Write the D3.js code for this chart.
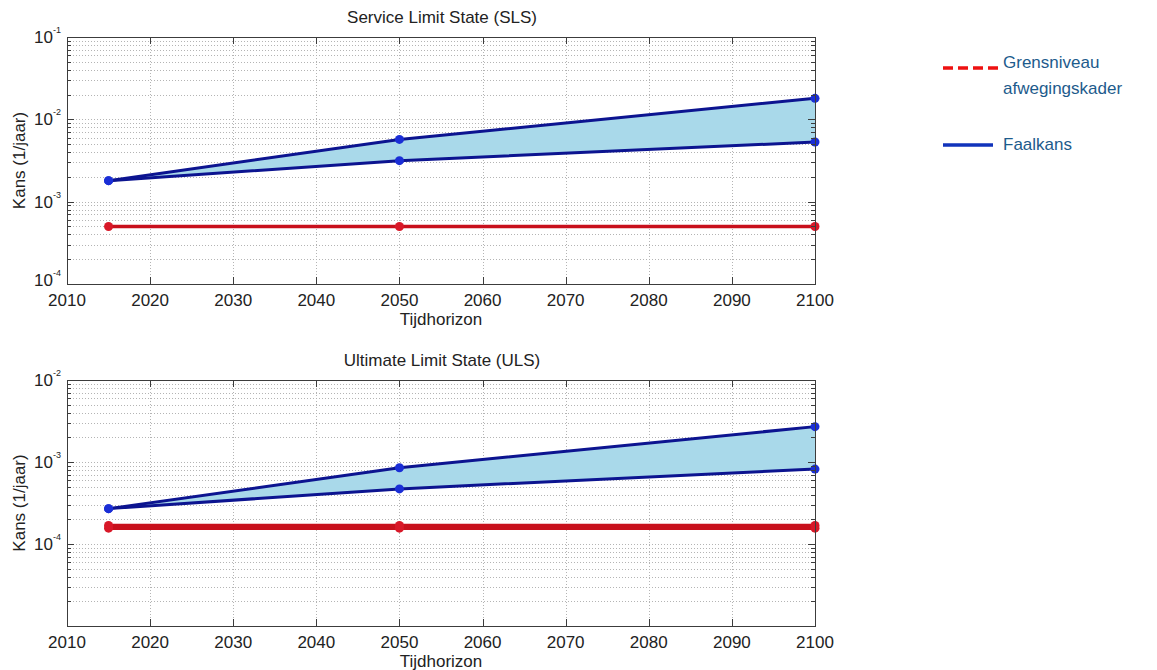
<!DOCTYPE html>
<html>
<head>
<meta charset="utf-8">
<script src="https://cdn.jsdelivr.net/npm/d3@7"></script>
<style>
  html, body { margin: 0; padding: 0; background: #ffffff; }
  svg text { font-family: "Liberation Sans", Arial, Helvetica, sans-serif; }
</style>
</head>
<body>
<svg id="chart" width="1157" height="670"></svg>
<script>
// Jaren waarvoor de faalkans is berekend
const years = [2015, 2050, 2100];

// Service Limit State (SLS)
const slsUpper = [1.8e-3, 5.7e-3, 1.8e-2];
const slsLower = [1.8e-3, 3.15e-3, 5.3e-3];
const slsLimit = [5e-4, 5e-4, 5e-4];

// Ultimate Limit State (ULS)
const ulsUpper = [2.7e-4, 8.5e-4, 2.7e-3];
const ulsLower = [2.7e-4, 4.7e-4, 8.2e-4];
const ulsLimitA = [1.56e-4, 1.56e-4, 1.56e-4];
const ulsLimitB = [1.68e-4, 1.68e-4, 1.68e-4];

// As-instellingen
const xTicks = [2010, 2020, 2030, 2040, 2050, 2060, 2070, 2080, 2090, 2100];
const slsDomain = [1e-4, 1e-1];
const slsTickExps = [-4, -3, -2, -1];
const ulsDomain = [1e-5, 1e-2];
const ulsTickExps = [-4, -3, -2];

const panelTitles = ["Service Limit State (SLS)", "Ultimate Limit State (ULS)"];
const xLabel = "Tijdhorizon";
const yLabel = "Kans (1/jaar)";
const legendLabels = [["Grensniveau", "afwegingskader"], ["Faalkans"]];

const svg = d3.select("#chart");

const C = {
  axis: "#3c3c3c",
  grid: "#b4b4b4",
  fill: "#a9d9ea",
  blueLine: "#0c1490",
  blueDot: "#1a2ed6",
  redLine: "#c8101c",
  redDot: "#d81828",
  text: "#222222",
  legendText: "#1d5b8c"
};

const FS = 17;

function drawPanel(cfg) {
  const { left, right, top, bottom, yDomain, tickExps, title, series, band, limits } = cfg;
  const g = svg.append("g");
  const x = d3.scaleLinear().domain([2010, 2100]).range([left, right]);
  const y = d3.scaleLog().domain(yDomain).range([bottom, top]);

  // grid: vertical at x ticks, horizontal at every 1..9 x 10^k
  const minorVals = [];
  const e0 = Math.round(Math.log10(yDomain[0])), e1 = Math.round(Math.log10(yDomain[1]));
  for (let e = e0; e < e1; e++) {
    for (let m = 1; m <= 9; m++) minorVals.push(m * Math.pow(10, e));
  }
  minorVals.push(yDomain[1]);

  const grid = g.append("g").attr("stroke", C.grid).attr("stroke-width", 1)
    .attr("stroke-dasharray", "1,2").attr("fill", "none");
  grid.selectAll("line.gy").data(minorVals.filter(v => v > yDomain[0] && v < yDomain[1]))
    .join("line").attr("class", "gy")
    .attr("x1", left).attr("x2", right)
    .attr("y1", d => Math.round(y(d)) + 0.5).attr("y2", d => Math.round(y(d)) + 0.5);
  grid.selectAll("line.gx").data(xTicks.filter(t => t > 2010 && t < 2100))
    .join("line").attr("class", "gx")
    .attr("y1", top).attr("y2", bottom)
    .attr("x1", d => Math.round(x(d)) + 0.5).attr("x2", d => Math.round(x(d)) + 0.5);

  // shaded band between lower and upper failure probability
  const area = d3.area()
    .x((d, i) => x(years[i]))
    .y0((d, i) => y(band.lower[i]))
    .y1((d, i) => y(band.upper[i]));
  g.append("path").datum(band.upper).attr("d", area).attr("fill", C.fill);

  const line = d3.line().x((d, i) => x(years[i])).y(d => y(d));

  // limit lines (red)
  limits.forEach(vals => {
    g.append("path").datum(vals).attr("d", line)
      .attr("fill", "none").attr("stroke", C.redLine).attr("stroke-width", 3.5);
  });
  limits.forEach(vals => {
    g.selectAll(null).data(vals).join("circle")
      .attr("cx", (d, i) => x(years[i])).attr("cy", d => y(d)).attr("r", 4.5)
      .attr("fill", C.redDot);
  });

  // failure probability lines (blue)
  series.forEach(vals => {
    g.append("path").datum(vals).attr("d", line)
      .attr("fill", "none").attr("stroke", C.blueLine).attr("stroke-width", 3);
  });
  series.forEach(vals => {
    g.selectAll(null).data(vals).join("circle")
      .attr("cx", (d, i) => x(years[i])).attr("cy", d => y(d)).attr("r", 4.5)
      .attr("fill", C.blueDot);
  });

  // axes box
  g.append("rect").attr("x", left + 0.5).attr("y", top + 0.5)
    .attr("width", right - left).attr("height", bottom - top)
    .attr("fill", "none").attr("stroke", C.axis).attr("stroke-width", 1);

  // x ticks (inside, bottom and top)
  const tk = g.append("g").attr("stroke", C.axis).attr("stroke-width", 1);
  xTicks.forEach(t => {
    const xx = Math.round(x(t)) + 0.5;
    tk.append("line").attr("x1", xx).attr("x2", xx).attr("y1", bottom).attr("y2", bottom - 7);
    tk.append("line").attr("x1", xx).attr("x2", xx).attr("y1", top).attr("y2", top + 7);
  });
  // y ticks, major and minor, left and right
  minorVals.forEach(v => {
    const yy = Math.round(y(v)) + 0.5;
    const major = Math.abs(Math.log10(v) - Math.round(Math.log10(v))) < 1e-9;
    const len = major ? 7 : 4;
    tk.append("line").attr("x1", left).attr("x2", left + len).attr("y1", yy).attr("y2", yy);
    tk.append("line").attr("x1", right).attr("x2", right - len).attr("y1", yy).attr("y2", yy);
  });

  // x tick labels
  g.append("g").selectAll("text").data(xTicks).join("text")
    .attr("x", d => x(d)).attr("y", bottom + 22)
    .attr("text-anchor", "middle").attr("font-size", FS).attr("fill", C.text)
    .text(d => d);

  // y tick labels 10^k (the one at the axis corner sits a little higher, clear of the year labels)
  tickExps.forEach(e => {
    const v = Math.pow(10, e);
    const atCorner = Math.abs(y(v) - bottom) < 1;
    const t = g.append("text").attr("x", left - 6).attr("y", y(v) + (atCorner ? 2 : 6))
      .attr("text-anchor", "end").attr("font-size", FS).attr("fill", C.text);
    t.append("tspan").text("10");
    t.append("tspan").attr("dy", -10).attr("font-size", 9).text(String(e));
  });

  // title and axis labels
  g.append("text").attr("x", (left + right) / 2 + 1).attr("y", top - 14)
    .attr("text-anchor", "middle").attr("font-size", FS).attr("fill", C.text).text(title);
  g.append("text").attr("x", (left + right) / 2).attr("y", bottom + 41)
    .attr("text-anchor", "middle").attr("font-size", FS).attr("fill", C.text).text(xLabel);
  g.append("text")
    .attr("transform", `translate(25,${(top + bottom) / 2}) rotate(-90)`)
    .attr("text-anchor", "middle").attr("font-size", FS).attr("fill", C.text).text(yLabel);
}

drawPanel({
  left: 67, right: 815, top: 37, bottom: 284,
  yDomain: slsDomain, tickExps: slsTickExps, title: panelTitles[0],
  series: [slsUpper, slsLower], band: { upper: slsUpper, lower: slsLower },
  limits: [slsLimit]
});

drawPanel({
  left: 67, right: 815, top: 380, bottom: 626,
  yDomain: ulsDomain, tickExps: ulsTickExps, title: panelTitles[1],
  series: [ulsUpper, ulsLower], band: { upper: ulsUpper, lower: ulsLower },
  limits: [ulsLimitA, ulsLimitB]
});

// legend
const lg = svg.append("g");
lg.append("line").attr("x1", 943).attr("x2", 998).attr("y1", 68).attr("y2", 68)
  .attr("stroke", "#ee1111").attr("stroke-width", 3.5).attr("stroke-dasharray", "10,5");
lg.append("text").attr("x", 1003).attr("y", 68).attr("font-size", 17).attr("fill", C.legendText)
  .text(legendLabels[0][0]);
lg.append("text").attr("x", 1003).attr("y", 94).attr("font-size", 17).attr("fill", C.legendText)
  .text(legendLabels[0][1]);
lg.append("line").attr("x1", 943).attr("x2", 993).attr("y1", 145).attr("y2", 145)
  .attr("stroke", "#1133bb").attr("stroke-width", 3.5);
lg.append("text").attr("x", 1003).attr("y", 150).attr("font-size", 17).attr("fill", C.legendText)
  .text(legendLabels[1][0]);
</script>
</body>
</html>
